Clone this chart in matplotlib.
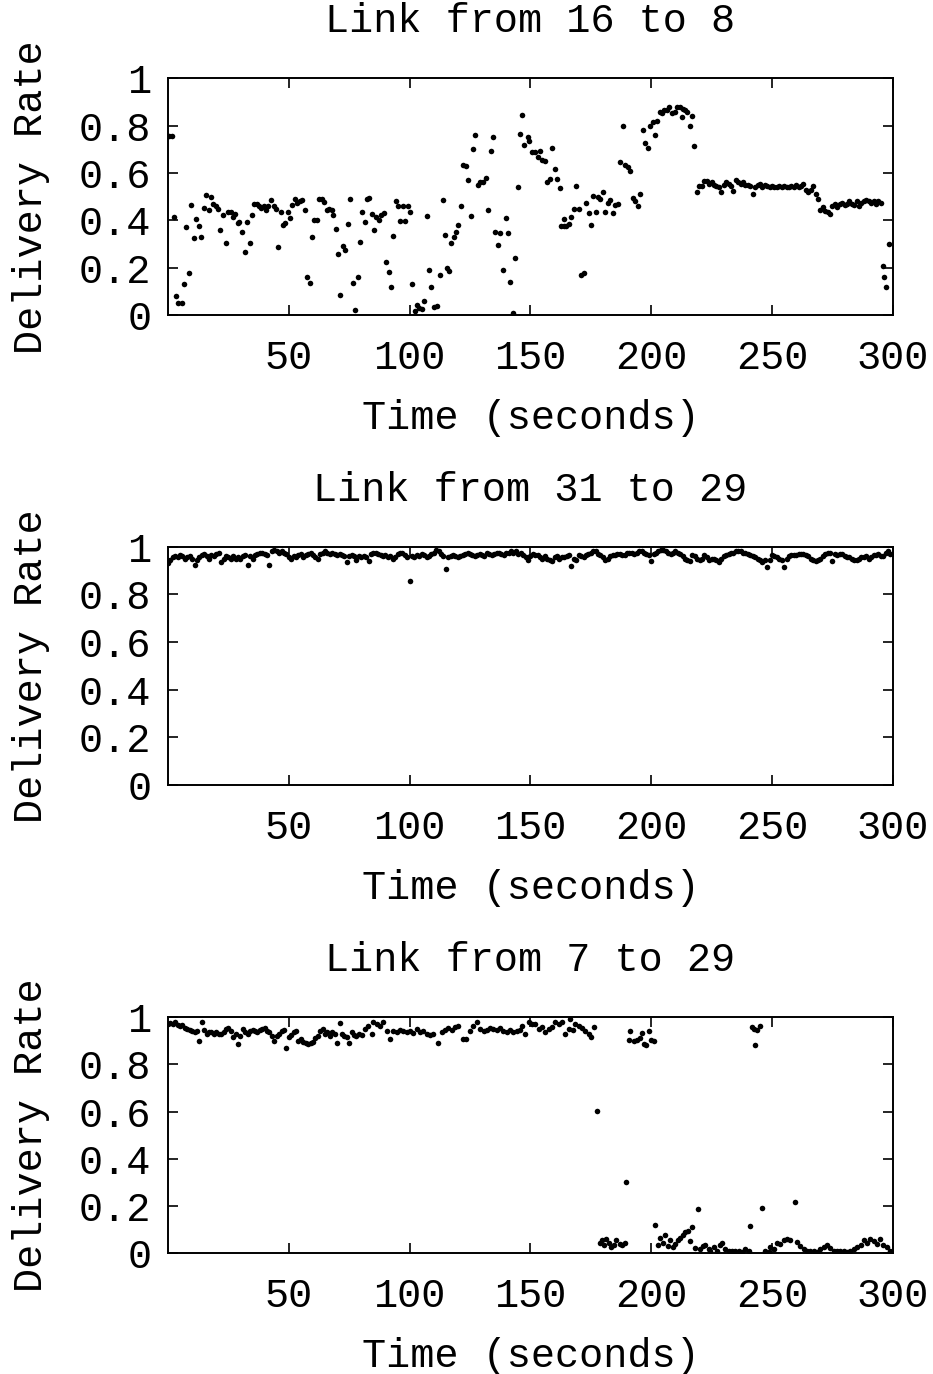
import matplotlib
matplotlib.use('Agg')
import matplotlib.pyplot as plt
import numpy as np

# ---------------- data ----------------
titles = ['Link from 16 to 8', 'Link from 31 to 29', 'Link from 7 to 29']
x_label = 'Time (seconds)'
y_label = 'Delivery Rate'
x_ticks = [50, 100, 150, 200, 250, 300]
y_ticks = [0, 0.2, 0.4, 0.6, 0.8, 1]
y_tick_labels = ['0', '0.2', '0.4', '0.6', '0.8', '1']

# Link 16 -> 8
t1 = [0.5, 1.5, 2.5, 3.3, 4.3, 5.7, 6.6, 7.5, 8.7, 9.7, 10.6, 11.6, 12.8, 13.8, 14.8, 15.9, 17, 17.7,
      18.8, 19.7, 20.8, 21.7, 22.6, 23.9, 25, 26, 26.8, 27.7, 29.1, 29.5, 30.8, 31.9, 32.9, 33.8, 34.8,
      35.7, 36.7, 37.7, 38.5, 39.6, 40.4, 41.4, 42.6, 43.8, 44.7, 45.7, 46.7, 47.6, 48.6, 49.6, 50.5,
      51.5, 52.6, 53.6, 54.5, 55.6, 56.6, 57.6, 58.8, 59.6, 60.6, 61.6, 62.5, 63.8, 64.6, 65.7, 66.8,
      67.8, 68.5, 69.4, 70.4, 71.4, 72.3, 73.4, 74.4, 75.4,
      76.4, 77.4, 78.5, 79.3, 80.5, 81.4, 82.2, 83.3, 84.5, 85.3, 86.1, 87.2, 88.2, 89.3, 90.2, 91.3,
      92.3, 93.3, 94.3, 95.2, 96.2, 97.1, 98.1, 99.2, 100.2, 101.2, 102.1, 103.1, 104.1, 105, 106, 107,
      107.9, 109, 110.1, 111.2, 112.6, 113.7, 114.7, 115.6, 116.5, 117.3, 118.3, 119.1, 120.2, 121.2,
      122.1, 123.2, 124.3, 125.3, 126.3, 127.2, 128.3, 129.3, 130.3, 131.7, 132.6, 133.6, 134.6, 135.5,
      136.6, 137.6, 138.7, 139.7, 140.6, 141.7, 142.7, 143.7, 144.8, 145.7, 146.6, 147.5, 148.8, 149.6,
      150.8, 151.9, 153, 153.8, 154.8, 155.9, 156.8, 157.9, 159.1, 160, 161, 162.1, 162.6, 163.7, 164,
      164.7, 165.8, 166.8, 167.9, 169, 170, 171.1, 172, 173.1, 174.1, 175.1, 176, 177, 178, 178.9, 180,
      181, 182, 182.8, 184.2, 185.1, 186.1, 187.2, 188.3, 189.3, 190.2, 191.3, 192.5, 193.4, 194.5,
      195.5, 196.6, 197.4, 198.5, 199.6, 200.6, 201.6, 202.5, 203.5, 204.5, 205.4, 206.5, 207.5, 208.7,
      209.7, 210.7, 211.8, 212.9, 213, 214, 215, 215.9, 216.9, 217.8, 219, 219.9, 221, 222,
      223, 224, 225, 226, 227, 228, 229, 230, 231, 232, 233, 234, 235, 236, 237, 238, 239, 240, 241,
      242, 243, 244, 245, 246, 247, 248, 249, 250, 251, 252, 253, 254, 255, 256, 257, 258, 259, 260,
      261, 262, 263, 264, 265, 266, 267, 268, 269, 270, 271, 272, 273, 274, 275, 276, 277, 278, 279,
      280, 281, 282, 283, 284, 285, 286, 287, 288, 289, 290, 291, 292, 293, 294, 295, 296, 296.5, 297,
      298.5]
v1 = [0.757, 0.754, 0.416, 0.08, 0.053, 0.053, 0.13, 0.374, 0.177, 0.466, 0.325, 0.405, 0.377, 0.329,
      0.451, 0.508, 0.442, 0.5, 0.47, 0.459, 0.447, 0.36, 0.423, 0.304, 0.435, 0.437, 0.416, 0.425,
      0.388, 0.395, 0.352, 0.269, 0.392, 0.304, 0.423, 0.47, 0.47, 0.459, 0.451, 0.459, 0.444, 0.461,
      0.484, 0.459, 0.45, 0.29, 0.435, 0.381, 0.388, 0.436, 0.409, 0.466, 0.489, 0.472, 0.48, 0.487,
      0.444, 0.163, 0.138, 0.329, 0.402, 0.402, 0.489, 0.489, 0.478, 0.443, 0.447, 0.444, 0.423, 0.363,
      0.259, 0.086, 0.293, 0.276, 0.385, 0.489,
      0.138, 0.022, 0.163, 0.308, 0.437, 0.394, 0.492, 0.496, 0.428, 0.36, 0.413, 0.402, 0.422, 0.43,
      0.224, 0.183, 0.118, 0.335, 0.482, 0.461, 0.398, 0.461, 0.399, 0.459, 0.436, 0.132, 0.02, 0.044,
      0.032, 0.027, 0.06, 0.418, 0.191, 0.121, 0.034, 0.039, 0.17, 0.484, 0.339, 0.201, 0.188, 0.304,
      0.332, 0.352, 0.381, 0.459, 0.634, 0.63, 0.571, 0.42, 0.702, 0.758, 0.55, 0.56, 0.564, 0.578,
      0.442, 0.693, 0.75, 0.352, 0.297, 0.349, 0.191, 0.412, 0.346, 0.141, 0.008, 0.24, 0.54, 0.765,
      0.845, 0.717, 0.751, 0.733,
      0.689, 0.688, 0.669, 0.692, 0.655, 0.65, 0.564, 0.574, 0.705, 0.616, 0.574, 0.536, 0.378, 0.378,
      0.406, 0.378, 0.385, 0.413, 0.447, 0.545, 0.45, 0.17, 0.18, 0.475, 0.43, 0.381, 0.504, 0.437,
      0.498, 0.489, 0.519, 0.437, 0.473, 0.484, 0.433, 0.466, 0.47, 0.646, 0.8, 0.634, 0.627, 0.61,
      0.494, 0.482, 0.461, 0.512, 0.782, 0.726, 0.707, 0.799, 0.813, 0.761, 0.821, 0.857, 0.852, 0.866,
      0.866, 0.878, 0.851, 0.855, 0.88, 0.876, 0.834, 0.869, 0.866, 0.858, 0.799, 0.838, 0.714, 0.518,
      0.546, 0.543, 0.568,
      0.565, 0.555, 0.56, 0.55, 0.545, 0.54, 0.52, 0.55, 0.56, 0.555, 0.545, 0.525, 0.57, 0.56, 0.555,
      0.56, 0.55, 0.55, 0.545, 0.51, 0.54, 0.55, 0.555, 0.54, 0.55, 0.545, 0.54, 0.545, 0.54, 0.54,
      0.545, 0.54, 0.545, 0.54, 0.54, 0.545, 0.54, 0.55, 0.54, 0.545, 0.555, 0.53, 0.52, 0.53, 0.545,
      0.51, 0.49, 0.445, 0.455, 0.44, 0.435, 0.425, 0.46, 0.47, 0.455, 0.47, 0.475, 0.465, 0.47, 0.48,
      0.47, 0.465, 0.48, 0.46, 0.475, 0.48, 0.485, 0.48, 0.475, 0.48, 0.47, 0.48, 0.475, 0.21, 0.16,
      0.12, 0.30]

# Link 31 -> 29 (one sample per second)
t2 = list(range(300))
v2 = [0.93, 0.945, 0.955, 0.96, 0.955, 0.965, 0.96, 0.95, 0.955, 0.96,
      0.95, 0.925, 0.945, 0.955, 0.965, 0.97, 0.96, 0.95, 0.965, 0.96,
      0.97, 0.975, 0.935, 0.95, 0.96, 0.955, 0.95, 0.96, 0.95, 0.955,
      0.95, 0.96, 0.965, 0.925, 0.96, 0.95, 0.965, 0.97, 0.975, 0.975,
      0.97, 0.965, 0.925, 0.98, 0.985, 0.98, 0.975, 0.98, 0.975, 0.97,
      0.955, 0.95, 0.96, 0.955, 0.965, 0.97, 0.955, 0.965, 0.97, 0.975,
      0.965, 0.955, 0.95, 0.97, 0.975, 0.98, 0.975, 0.97, 0.975, 0.97,
      0.965, 0.97, 0.965, 0.96, 0.935, 0.96, 0.965, 0.96, 0.945, 0.96,
      0.955, 0.96, 0.955, 0.94, 0.97, 0.975, 0.975, 0.97, 0.965, 0.96,
      0.965, 0.955, 0.96, 0.95, 0.955, 0.97, 0.975, 0.975, 0.965, 0.955,
      0.855, 0.96, 0.955, 0.965, 0.96, 0.97, 0.965, 0.955, 0.96, 0.97,
      0.975, 0.985, 0.98, 0.97, 0.96, 0.905, 0.955, 0.96, 0.965, 0.96,
      0.955, 0.96, 0.965, 0.97, 0.975, 0.97, 0.965, 0.96, 0.965, 0.97,
      0.965, 0.96, 0.975, 0.97, 0.965, 0.97, 0.975, 0.975, 0.97, 0.965,
      0.975, 0.975, 0.98, 0.975, 0.98, 0.97, 0.975, 0.965, 0.955, 0.945,
      0.96, 0.97, 0.965, 0.965, 0.955, 0.95, 0.96, 0.95, 0.945, 0.94,
      0.955, 0.96, 0.95, 0.955, 0.955, 0.96, 0.965, 0.92, 0.95, 0.945,
      0.965, 0.96, 0.955, 0.965, 0.97, 0.975, 0.98, 0.98, 0.97, 0.965,
      0.955, 0.945, 0.95, 0.96, 0.965, 0.965, 0.97, 0.97, 0.965, 0.965,
      0.975, 0.975, 0.975, 0.97, 0.975, 0.98, 0.98, 0.975, 0.97, 0.965,
      0.94, 0.97, 0.975, 0.98, 0.985, 0.985, 0.98, 0.975, 0.97, 0.975,
      0.98, 0.975, 0.97, 0.96, 0.95, 0.945, 0.94, 0.965, 0.96, 0.95,
      0.945, 0.95, 0.965, 0.955, 0.945, 0.95, 0.95, 0.945, 0.935, 0.95,
      0.96, 0.965, 0.97, 0.975, 0.975, 0.98, 0.98, 0.98, 0.975, 0.975,
      0.97, 0.965, 0.96, 0.955, 0.95, 0.945, 0.935, 0.945, 0.915, 0.945,
      0.965, 0.96, 0.955, 0.95, 0.945, 0.915, 0.95, 0.96, 0.965, 0.965,
      0.965, 0.97, 0.97, 0.97, 0.965, 0.96, 0.95, 0.945, 0.94, 0.945,
      0.95, 0.96, 0.97, 0.975, 0.975, 0.94, 0.97, 0.965, 0.97, 0.97,
      0.96, 0.955, 0.955, 0.95, 0.945, 0.945, 0.95, 0.955, 0.955, 0.96,
      0.95, 0.955, 0.965, 0.965, 0.97, 0.96, 0.96, 0.975, 0.98, 0.97]

# Link 7 -> 29
t3 = [0, 1, 2, 3, 4, 5, 6, 7, 8, 9, 10, 11, 12, 13, 14, 15, 16, 17, 18, 19, 20, 21, 22, 23, 24, 25,
      26, 27, 28, 29, 30, 31, 32, 33, 34, 35, 36, 37, 38, 39, 40, 41, 42, 43, 44, 45, 46, 47, 48, 49,
      50, 51, 52, 53, 54, 55, 56, 57, 58, 59, 60, 61, 62, 63, 64, 65, 66, 67, 68, 69, 70, 71, 72, 73,
      74, 75, 76, 77, 78, 79,
      80.2, 81.6, 82.9, 84.3, 85, 86.4, 87.8, 89.1, 90.5, 91.9, 93.3, 94.7, 96, 97.4, 98.8, 100.2,
      101.6, 102.9, 104.3, 105.7, 107.1, 108.5, 109.8, 111.9, 113.3, 114.7, 116.1, 117.4, 118.8, 120.2,
      122.3, 123.4, 125, 126.4, 127.8, 129.2, 130.6, 131.9, 133.3, 134.7, 136.1, 137.5, 138.8, 140.2,
      141.6, 143, 144.4, 145.7,
      146.5, 147.9, 149.3, 150.6, 152, 153.4, 154.8, 156.2, 157.5, 158.9, 160.3, 161.7, 163, 164.4,
      165.8, 166.5, 167.6, 168.6, 170, 171.3, 172.7, 174.1, 175.2, 176.4, 177.5,
      178.7, 179.7, 180.6, 181.4, 182.4, 183.3, 184.4, 185.5, 186.9, 187.9, 189.3, 189.7,
      190.7, 191.4, 192.7, 194.1, 195.2, 196.2, 197.1, 198, 199, 199.9, 201,
      201.7, 202.7, 203.8, 204.9, 205.8, 206.8, 207.9, 209, 210, 211, 212, 213.2, 214.1, 215.1, 216.2,
      217, 218.3, 219.2, 220.3, 221.4, 222.4, 223.8,
      224.4, 225.8, 227.2, 228.6, 229.3, 230.7, 232, 233.4, 234.8, 236.2, 237.5, 238.9, 240.3, 241,
      241.7, 242.4, 243.1, 243.8, 245.1, 245.8, 247.2, 248.6, 249.3, 250.7, 252.1, 253.4, 254.8, 256.2,
      257.6, 259.4, 260.3, 261.7, 263.1, 264.5, 265.9, 267.2, 268.6, 270, 271.4, 272.8, 274.1, 275.5,
      276.9, 278.3, 279.7, 281, 282.4, 283.8, 285.2, 286.6, 288, 289.3, 290.7, 292.1, 293.5, 294.8,
      295.9, 297.6, 299]
v3 = [0.97, 0.975, 0.97, 0.98, 0.965, 0.96, 0.965, 0.955, 0.95, 0.945,
      0.94, 0.935, 0.94, 0.9, 0.98, 0.945, 0.93, 0.935, 0.935, 0.93,
      0.935, 0.93, 0.93, 0.935, 0.95, 0.955, 0.94, 0.915, 0.93, 0.885,
      0.92, 0.95, 0.935, 0.93, 0.94, 0.945, 0.94, 0.935, 0.945, 0.95,
      0.955, 0.94, 0.935, 0.92, 0.9, 0.92, 0.93, 0.94, 0.945, 0.87,
      0.915, 0.925, 0.935, 0.94, 0.9, 0.905, 0.895, 0.89, 0.885, 0.89,
      0.895, 0.91, 0.92, 0.94, 0.95, 0.93, 0.935, 0.92, 0.935, 0.93,
      0.89, 0.975, 0.93, 0.92, 0.915, 0.89, 0.935, 0.925, 0.92, 0.93,
      0.922, 0.95, 0.964, 0.929, 0.978, 0.971, 0.964, 0.978, 0.943, 0.908, 0.943, 0.936, 0.947, 0.939,
      0.936, 0.943, 0.933, 0.95, 0.936, 0.939, 0.929, 0.922, 0.929, 0.891, 0.936, 0.947, 0.953, 0.947,
      0.957, 0.961, 0.908, 0.905, 0.939, 0.964, 0.978, 0.95, 0.943, 0.947, 0.953, 0.95, 0.947, 0.953,
      0.943, 0.936, 0.947, 0.936, 0.943, 0.947,
      0.964, 0.929, 0.978, 0.971, 0.971, 0.95, 0.957, 0.936, 0.95, 0.957, 0.978, 0.971, 0.978, 0.929,
      0.95, 0.992, 0.947, 0.971, 0.964, 0.953, 0.943, 0.929, 0.915, 0.957, 0.602,
      0.045, 0.057, 0.034, 0.062, 0.045, 0.027, 0.037, 0.057, 0.041, 0.034, 0.045, 0.302,
      0.901, 0.939, 0.897, 0.901, 0.911, 0.933, 0.887, 0.88, 0.939, 0.901, 0.897,
      0.118, 0.037, 0.063, 0.045, 0.079, 0.031, 0.055, 0.027, 0.041, 0.055, 0.063, 0.077, 0.09, 0.093,
      0.051, 0.111, 0.022, 0.186, 0.017, 0.031, 0.037, 0.019,
      0.008, 0.027, 0.012, 0.034, 0.045, 0.019, 0.008, 0.012, 0.008, 0.012, 0.006, 0.019, 0.012, 0.117,
      0.957, 0.95, 0.882, 0.947, 0.961, 0.193, 0.012, 0.006, 0.027, 0.019, 0.045, 0.041, 0.055, 0.062,
      0.055, 0.217, 0.048, 0.031, 0.019, 0.012, 0.008, 0.012, 0.006, 0.017, 0.027, 0.037, 0.022, 0.012,
      0.012, 0.008, 0.008, 0.006, 0.012, 0.019, 0.027, 0.034, 0.055, 0.045, 0.062, 0.051, 0.041, 0.062,
      0.037, 0.027, 0.012]

series = [(t1, v1), (t2, v2), (t3, v3)]

# ---------------- figure ----------------
plt.rcParams['font.family'] = ['Liberation Mono', 'DejaVu Sans Mono']
FS = 29

fig = plt.figure(figsize=(9.33, 13.74), dpi=100)
positions = [(0.180, 0.7705, 0.777, 0.1727),
             (0.180, 0.4287, 0.777, 0.1734),
             (0.180, 0.0878, 0.777, 0.1720)]

for pos, title, (tt, vv) in zip(positions, titles, series):
    ax = fig.add_axes(pos)
    ax.plot(tt, vv, linestyle='none', marker='o', markersize=4.0,
            markeredgewidth=0, color='black')
    ax.set_xlim(0, 300)
    ax.set_ylim(0, 1)
    ax.set_xticks(x_ticks)
    ax.set_xticklabels([str(x) for x in x_ticks])
    ax.set_yticks(y_ticks)
    ax.set_yticklabels(y_tick_labels)
    ax.tick_params(direction='in', length=7, width=1.2, top=True, right=True,
                   labelsize=FS)
    ax.tick_params(axis='y', pad=12)
    ax.tick_params(axis='x', pad=17)
    for sp in ax.spines.values():
        sp.set_linewidth(1.4)
    ax.set_title(title, fontsize=FS, pad=33)
    ax.set_xlabel(x_label, fontsize=FS, labelpad=16)
    ax.set_ylabel(y_label, fontsize=FS, labelpad=21)

fig.savefig('out.png', dpi=100, facecolor='white')
